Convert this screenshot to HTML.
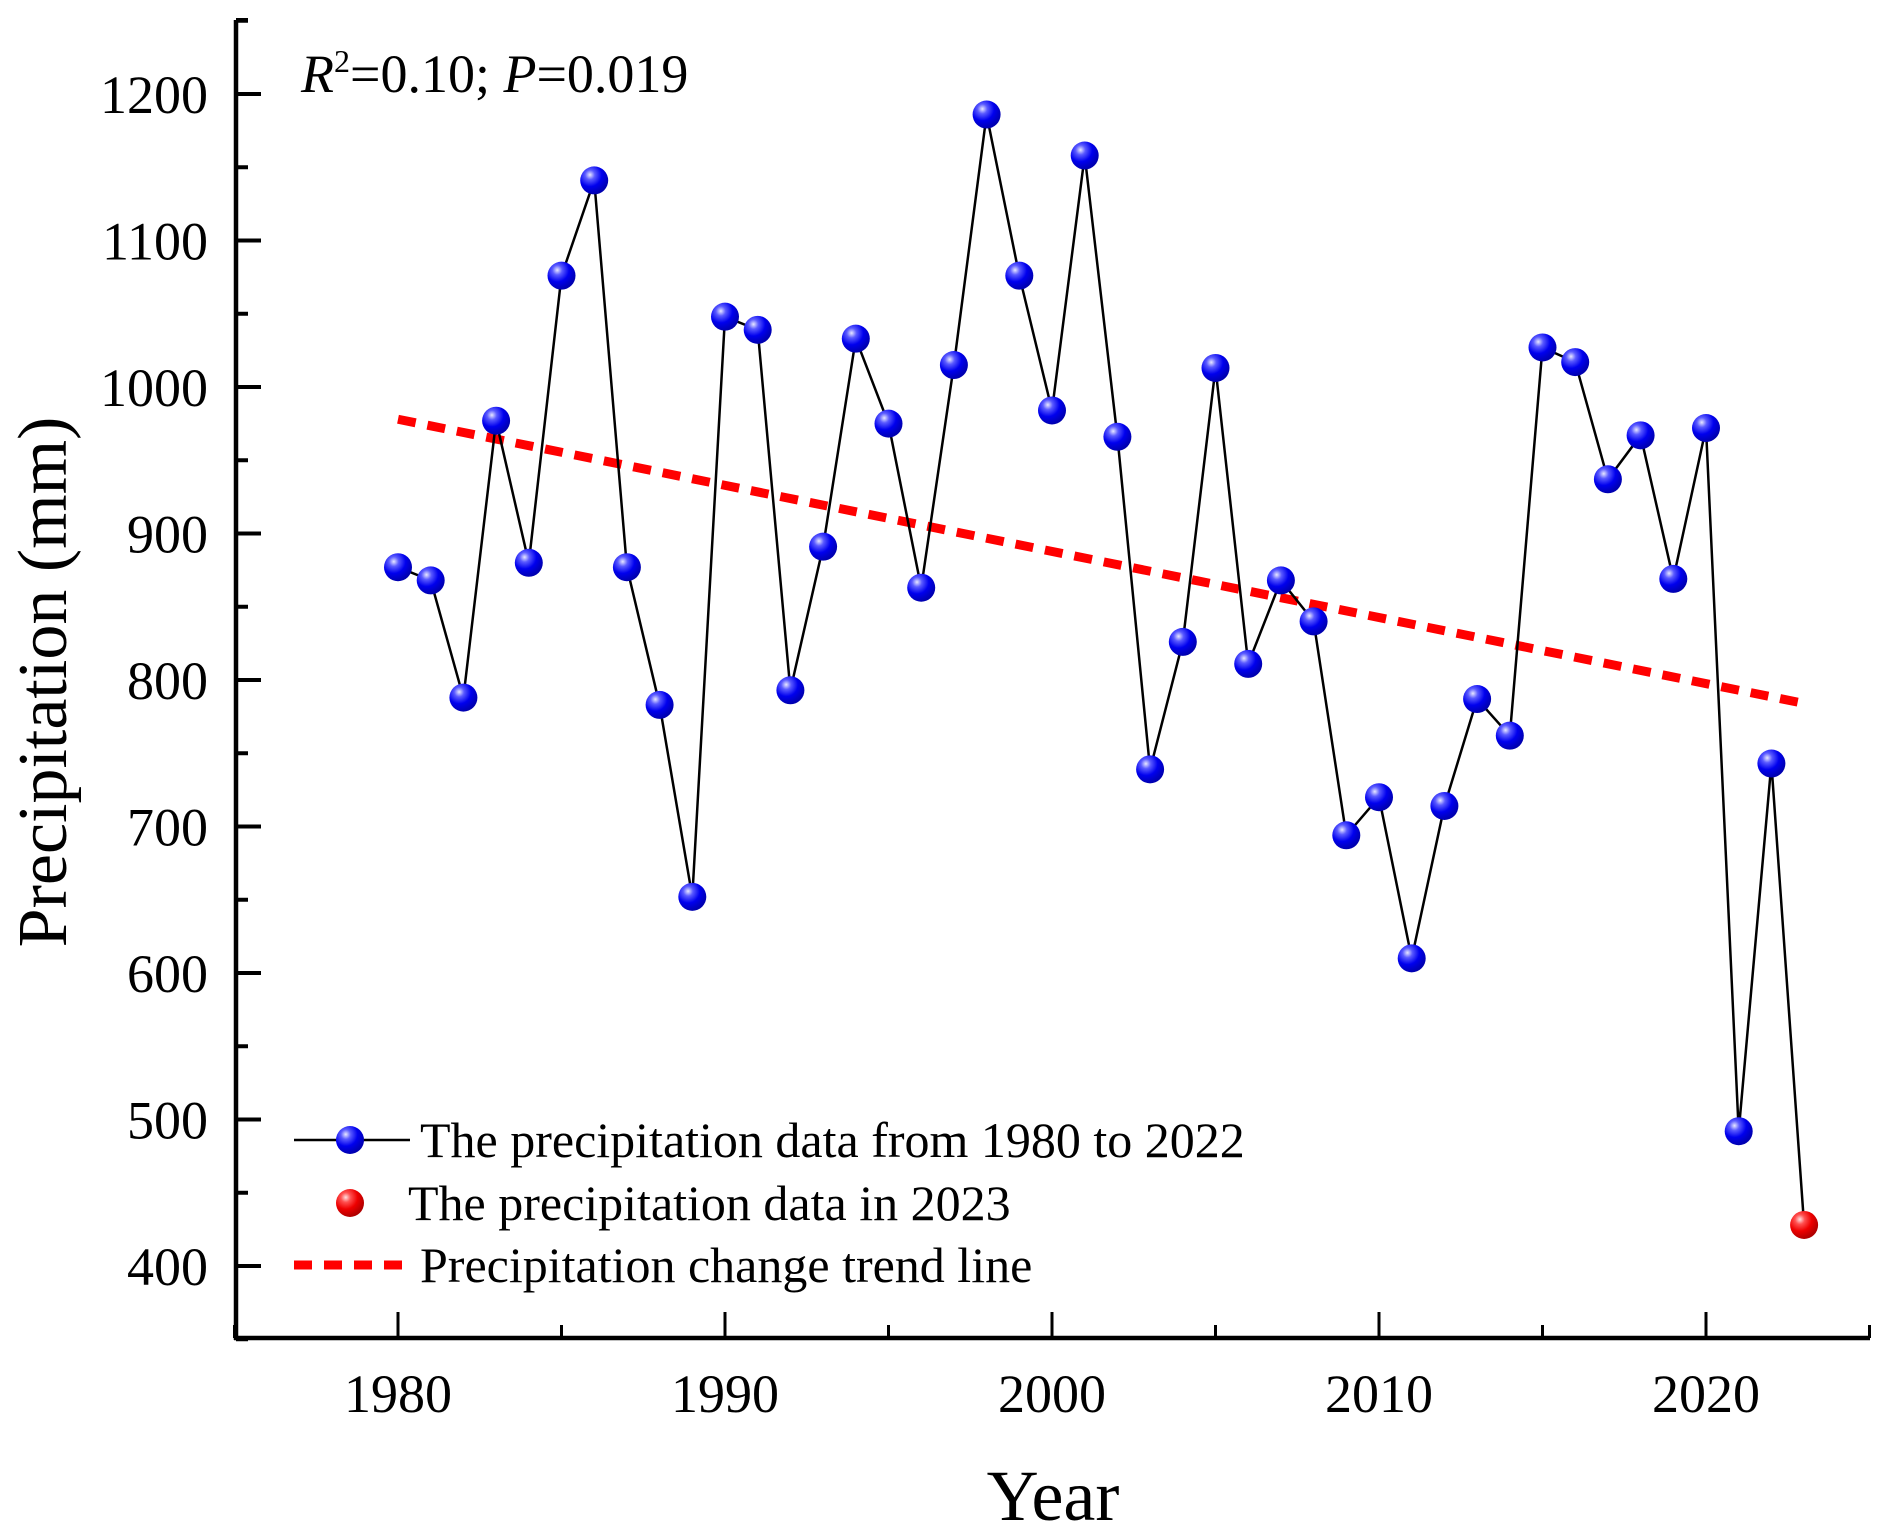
<!DOCTYPE html>
<html><head><meta charset="utf-8"><style>
html,body{margin:0;padding:0;background:#fff;}
svg{display:block;font-family:"Liberation Serif",serif;}
</style></head><body>
<svg id="chart" width="1892" height="1536" viewBox="0 0 1892 1536">
<defs>
<radialGradient id="gb" cx="0.35" cy="0.3" r="0.7"><stop offset="0" stop-color="#e8e8ff"/><stop offset="0.25" stop-color="#5a5aff"/><stop offset="0.6" stop-color="#0000ee"/><stop offset="1" stop-color="#0000b0"/></radialGradient>
<radialGradient id="gr" cx="0.35" cy="0.3" r="0.7"><stop offset="0" stop-color="#ffe0e0"/><stop offset="0.25" stop-color="#ff5050"/><stop offset="0.6" stop-color="#ee0000"/><stop offset="1" stop-color="#b00000"/></radialGradient>
</defs>
<g id="axes"></g>
<g id="marks"></g>
<text x="301" y="92" font-size="54"><tspan font-style="italic">R</tspan><tspan dy="-20" font-size="32">2</tspan><tspan dy="20">=0.10; </tspan><tspan font-style="italic">P</tspan><tspan>=0.019</tspan></text>
<text transform="translate(66,682) rotate(-90)" text-anchor="middle" font-size="70">Precipitation (mm)</text>
<text x="1053" y="1520" text-anchor="middle" font-size="72">Year</text>
<g>
<line x1="294" y1="1140" x2="410" y2="1140" stroke="#000" stroke-width="2.5"/>
<circle cx="350" cy="1140" r="14" fill="url(#gb)"/>
<text x="420" y="1157" font-size="50">The precipitation data from 1980 to 2022</text>
<circle cx="350" cy="1203" r="14" fill="url(#gr)"/>
<text x="408" y="1220" font-size="50">The precipitation data in 2023</text>
<line x1="294" y1="1265" x2="410" y2="1265" stroke="#f00" stroke-width="9" stroke-dasharray="18 12"/>
<text x="420" y="1282" font-size="50">Precipitation change trend line</text>
</g>
</svg>
<script>
const years = [1980,1981,1982,1983,1984,1985,1986,1987,1988,1989,1990,1991,1992,1993,1994,1995,1996,1997,1998,1999,2000,2001,2002,2003,2004,2005,2006,2007,2008,2009,2010,2011,2012,2013,2014,2015,2016,2017,2018,2019,2020,2021,2022];
const precip = [877,868,788,977,880,1076,1141,877,783,652,1048,1039,793,891,1033,975,863,1015,1186,1076,984,1158,966,739,826,1013,811,868,840,694,720,610,714,787,762,1027,1017,937,967,869,972,492,743];
const year2023 = [2023];
const precip2023 = [428];
const trendYears = [1980,2023];
const trendValues = [978,784];
const yTicks = [400,500,600,700,800,900,1000,1100,1200];
const xTicks = [1980,1990,2000,2010,2020];

const X0=236, Y0=1338;
function sx(y){return 398 + (y-1980)*(1706-398)/40;}
function sy(v){return 94 + (1200-v)*146.5/100;}
const NS="http://www.w3.org/2000/svg";
function mk(tag,attrs,parent){const e=document.createElementNS(NS,tag);for(const k in attrs)e.setAttribute(k,attrs[k]);parent.appendChild(e);return e;}
const axes=document.getElementById('axes'), marks=document.getElementById('marks');

let a=mk('line',{x1:X0,y1:20,x2:X0,y2:Y0+2,stroke:'#000','stroke-width':4.5},axes);


a=mk('line',{x1:X0-2,y1:Y0,x2:1870,y2:Y0,stroke:'#000','stroke-width':4.5},axes);


mk('line',{x1:X0,y1:20,x2:X0+12,y2:20,stroke:'#000','stroke-width':4},axes);

for(const v of yTicks){
  const t=mk('line',{x1:X0,y1:sy(v),x2:X0+25,y2:sy(v),stroke:'#000','stroke-width':4},axes);
  
  
  const m=mk('line',{x1:X0,y1:sy(v+50),x2:X0+12,y2:sy(v+50),stroke:'#000','stroke-width':4},axes);
  
  
  const l=mk('text',{x:208,y:sy(v)+19,'text-anchor':'end','font-size':54},axes);
  l.textContent=v;
  
  
}
mk('line',{x1:X0,y1:sy(350),x2:X0+12,y2:sy(350),stroke:'#000','stroke-width':4},axes);
for(const y of xTicks){
  const t=mk('line',{x1:sx(y),y1:Y0,x2:sx(y),y2:Y0-26,stroke:'#000','stroke-width':3},axes);
  
  
  const m=mk('line',{x1:sx(y+5),y1:Y0,x2:sx(y+5),y2:Y0-13,stroke:'#000','stroke-width':3},axes);
  
  
  const l=mk('text',{x:sx(y),y:1412,'text-anchor':'middle','font-size':54},axes);
  l.textContent=y;
  
  
}
mk('line',{x1:sx(1975),y1:Y0,x2:sx(1975),y2:Y0-13,stroke:'#000','stroke-width':3},axes);

const tr=mk('line',{x1:sx(trendYears[0]),y1:sy(trendValues[0]),x2:sx(trendYears[1]),y2:sy(trendValues[1]),stroke:'#f00','stroke-width':9,'stroke-dasharray':'18 12'},marks);


const allX=years.concat(year2023), allY=precip.concat(precip2023);
const pl=mk('polyline',{points:allX.map((y,i)=>sx(y)+','+sy(allY[i])).join(' '),fill:'none',stroke:'#000','stroke-width':2.5},marks);


years.forEach((y,i)=>{
  const c=mk('circle',{cx:sx(y),cy:sy(precip[i]),r:14,fill:'url(#gb)'},marks);
  
  
});
year2023.forEach((y,i)=>{
  const c=mk('circle',{cx:sx(y),cy:sy(precip2023[i]),r:14,fill:'url(#gr)'},marks);
  
  
});
</script>
</body></html>
